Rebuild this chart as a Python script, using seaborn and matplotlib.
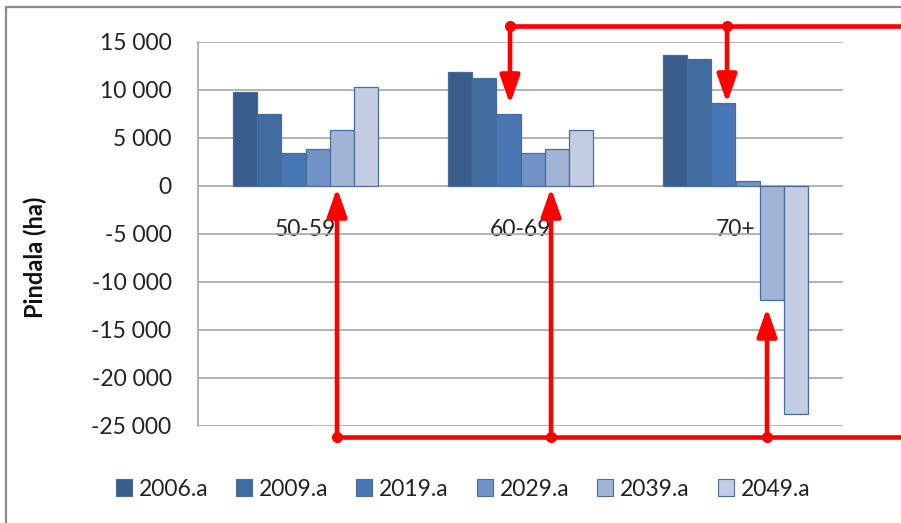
import matplotlib
matplotlib.use("Agg")
import matplotlib.pyplot as plt
from matplotlib.lines import Line2D
from matplotlib.patches import FancyArrowPatch, Patch
import seaborn as sns
import pandas as pd

# ---- data ----
categories = ["50-59", "60-69", "70+"]
years = ["2006.a", "2009.a", "2019.a", "2029.a", "2039.a", "2049.a"]
v2006 = [9800, 11800, 13600]
v2009 = [7500, 11200, 13150]
v2019 = [3400, 7500, 8600]
v2029 = [3800, 3400, 450]
v2039 = [5800, 3800, -11900]
v2049 = [10300, 5800, -23800]
yticks = [15000, 10000, 5000, 0, -5000, -10000, -15000, -20000, -25000]
ytick_labels = ["15 000", "10 000", "5 000", "0", "-5 000", "-10 000",
                "-15 000", "-20 000", "-25 000"]
ylabel = "Pindala (ha)"

colors = ["#385D8A", "#3F6B9E", "#4777B4", "#7293C5", "#A1B4D6", "#C2CDE3"]
edge = "#4A6C9B"

series = [v2006, v2009, v2019, v2029, v2039, v2049]
rows = []
for yr, vals in zip(years, series):
    for cat, v in zip(categories, vals):
        rows.append({"cat": cat, "year": yr, "value": v})
df = pd.DataFrame(rows)

sns.set_style("white")
plt.rcParams["font.family"] = ["Lato", "DejaVu Sans"]

W, H = 901, 523
fig = plt.figure(figsize=(W / 100, H / 100), dpi=100)
ax = fig.add_axes([198 / W, 1 - 425.7 / H, (843 - 198) / W, (425.7 - 41.7) / H])

sns.barplot(data=df, x="cat", y="value", hue="year", order=categories,
            hue_order=years, palette=colors, width=0.67, ax=ax,
            edgecolor=edge, linewidth=0.9, legend=False, errorbar=None,
            saturation=1)

ax.set_ylim(-25000, 15000)
ax.set_xlim(-0.5, 2.5)
ax.set_yticks(yticks)
ax.set_yticklabels(ytick_labels, fontsize=16.5, color="#222222")
ax.yaxis.grid(True, color="#A6A6A6", linewidth=1.2)
ax.set_axisbelow(True)
ax.tick_params(axis="y", length=7, width=1.2, color="#A6A6A6", pad=12)
ax.set_xlabel("")
ax.set_ylabel("")

for s in ["top", "right"]:
    ax.spines[s].set_visible(False)
ax.spines["left"].set_color("#A6A6A6")
ax.spines["left"].set_linewidth(1.2)
ax.spines["bottom"].set_position(("data", 0))
ax.spines["bottom"].set_visible(False)
ax.tick_params(axis="x", length=0, pad=24)
ax.set_xticks(range(len(categories)))
ax.set_xticklabels(categories, fontsize=16.5, color="#222222")

fig.text(35 / W, 1 - 257 / H, ylabel, rotation=90, ha="center", va="center",
         fontsize=17, fontweight="bold", color="#111111")

handles = [Patch(facecolor=c, edgecolor=edge, linewidth=0.8) for c in colors]
fig.legend(handles, years, loc="center", ncol=6, frameon=False,
           bbox_to_anchor=(463 / W, 1 - 489 / H), fontsize=16.5,
           handlelength=0.7, handleheight=0.7, handletextpad=0.3,
           columnspacing=1.22, labelcolor="#222222")

# ---- outer chart frame ----
def px(x, y):
    return (x / W, 1 - y / H)

frame_kw = dict(color="#8C8C8C", linewidth=1.6, transform=fig.transFigure)
fig.add_artist(Line2D([6 / W, 1], [1 - 7 / H, 1 - 7 / H], **frame_kw))
fig.add_artist(Line2D([6 / W, 6 / W], [1 - 7 / H, 0], **frame_kw))

# ---- red overlay arrows ----
red = "#FF0000"
lw = 3.3
line_kw = dict(color=red, linewidth=lw, transform=fig.transFigure,
               solid_capstyle="butt")
fig.add_artist(Line2D([510 / W, 1], [1 - 26 / H, 1 - 26 / H], **line_kw))
fig.add_artist(Line2D([337 / W, 1], [1 - 437 / H, 1 - 437 / H], **line_kw))

arrows = [((510, 26), (510, 104)), ((727, 26), (727, 103)),
          ((337, 437), (337, 188)), ((551, 437), (551, 188)),
          ((767, 437), (767, 308))]
for a, b in arrows:
    fig.add_artist(FancyArrowPatch(px(*a), px(*b), transform=fig.transFigure,
                                   arrowstyle="-|>,head_length=17,head_width=6",
                                   mutation_scale=1, color=red, linewidth=lw,
                                   shrinkA=0, shrinkB=0))
    fig.add_artist(Line2D([a[0] / W], [1 - a[1] / H], marker="o",
                          markersize=7, color=red, transform=fig.transFigure))

fig.savefig("out.png", dpi=100)
